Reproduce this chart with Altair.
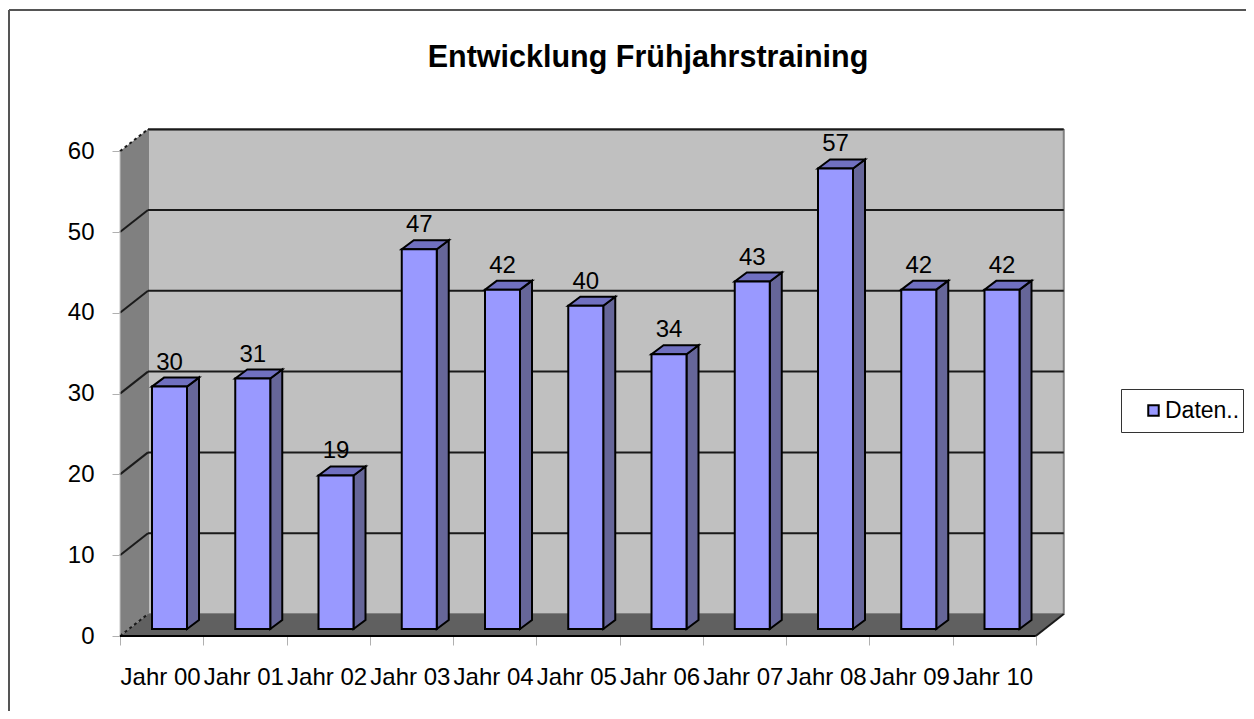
import json
import altair as alt
import pandas as pd

categories = ["Jahr 00", "Jahr 01", "Jahr 02", "Jahr 03", "Jahr 04", "Jahr 05",
              "Jahr 06", "Jahr 07", "Jahr 08", "Jahr 09", "Jahr 10"]
values = [30, 31, 19, 47, 42, 40, 34, 43, 57, 42, 42]
y_ticks = [0, 10, 20, 30, 40, 50, 60]
x_ticks = list(range(12))
series_name = "Daten.."

# layout
PW, PH = 944, 506
UX, UY = 83.25, 8.08            # px per category / per value unit
WX, WY = 28 / UX, 22 / UY       # depth of walls
BX, BY = 32 / UX, 7 / UY        # bar front plane offset
BW = 35 / UX                    # bar width
DX, DY = 12 / UX, 9 / UY        # bar depth
XD = [0, PW / UX]
YD = [0, PH / UY]
N = len(categories)

x_axis = alt.Axis(values=x_ticks, domain=False, grid=False, tickColor="#b0b0b0", tickSize=9, tickWidth=1,
                  labelFont="Liberation Sans", labelFontSize=24, labelColor="black", labelPadding=20,
                  labelOffset=UX / 2 - 1.5, labelOverlap=False, labelBound=False, labelFlush=False,
                  labelExpr=json.dumps(categories) + "[datum.value] || ''")
y_axis = alt.Axis(values=y_ticks, domain=False, grid=False, tickColor="#b0b0b0", tickSize=8, tickWidth=1,
                  labelFont="Liberation Sans", labelFontSize=24, labelColor="black", labelPadding=18,
                  labelOverlap=False, labelBound=False, labelFlush=False)


def X(f):
    return alt.X(f, type="quantitative", scale=alt.Scale(domain=XD, nice=False, zero=False), axis=x_axis, title=None)


def Y(f):
    return alt.Y(f, type="quantitative", scale=alt.Scale(domain=YD, nice=False, zero=False), axis=y_axis, title=None)


# walls
back = pd.DataFrame({"x": [WX], "x2": [N + WX], "y": [WY], "y2": [YD[1]]})
back_layer = alt.Chart(back).mark_rect(fill="#c0c0c0", stroke="#808080", strokeWidth=2).encode(
    x=X("x"), x2="x2", y=Y("y"), y2="y2")

left = pd.DataFrame({"x": [0, WX], "y": [0, WY], "y2": [60, 60 + WY]})
left_layer = alt.Chart(left).mark_area(fill="#808080", opacity=1).encode(x=X("x"), y=Y("y"), y2="y2")

floor = pd.DataFrame({"y": [0, WY], "x": [0, WX], "x2": [N, N + WX]})
floor_layer = alt.Chart(floor).mark_area(orient="horizontal", fill="#606060", opacity=1).encode(
    y=Y("y"), x=X("x"), x2="x2")

# grid lines
grid = pd.DataFrame({"v": y_ticks[1:]})
grid["y"] = grid["v"] + WY
grid["x"] = WX
grid["x2"] = N + WX
grid_back = alt.Chart(grid).mark_rule(color="#1a1a1a", strokeWidth=2).encode(x=X("x"), x2="x2", y=Y("y"))

diag = pd.DataFrame([{"v": v, "x": px, "y": v + py, "kind": "solid" if 0 < v < 60 else "dash"}
                     for v in y_ticks for px, py in [(0, 0), (WX, WY)]])
diag_solid = alt.Chart(diag[diag.kind == "solid"]).mark_line(color="#1a1a1a", strokeWidth=2).encode(
    x=X("x"), y=Y("y"), detail="v:N")
diag_dash = alt.Chart(diag[diag.kind == "dash"]).mark_line(color="#1a1a1a", strokeWidth=2, strokeDash=[3, 3]).encode(
    x=X("x"), y=Y("y"), detail="v:N")
floor_right = pd.DataFrame({"x": [N, N + WX], "y": [0, WY]})
floor_edge = alt.Chart(floor_right).mark_line(color="#1a1a1a", strokeWidth=2).encode(x=X("x"), y=Y("y"))

# bars
fronts = pd.DataFrame({"cat": categories, "val": values, "series": series_name})
fronts["x"] = [i + BX for i in range(N)]
fronts["x2"] = fronts["x"] + BW
fronts["y"] = BY
fronts["y2"] = fronts["val"] + BY

side_rows, top_rows = [], []
for i, v in enumerate(values):
    xr = i + BX + BW
    side_rows += [{"i": i, "x": xr, "y": BY, "y2": v + BY},
                  {"i": i, "x": xr + DX, "y": BY + DY, "y2": v + BY + DY}]
    top_rows += [{"i": i, "y": v + BY, "x": xr - BW, "x2": xr},
                 {"i": i, "y": v + BY + DY, "x": xr - BW + DX, "x2": xr + DX}]
sides = pd.DataFrame(side_rows)
tops = pd.DataFrame(top_rows)

side_layer = alt.Chart(sides).mark_area(fill="#666699", stroke="black", strokeWidth=2, opacity=1).encode(
    x=X("x"), y=Y("y"), y2="y2", detail="i:N")
top_layer = alt.Chart(tops).mark_area(orient="horizontal", fill="#7070c0", stroke="black", strokeWidth=2, opacity=1).encode(
    y=Y("y"), x=X("x"), x2="x2", detail="i:N")

legend = alt.Legend(title=None, orient="none", legendX=1001, legendY=259, symbolType="square", symbolSize=110,
                    symbolStrokeColor="black", symbolStrokeWidth=2, symbolOffset=18, labelFont="Liberation Sans",
                    labelFontSize=23, labelColor="black", labelOffset=0, strokeColor="#333333", fillColor="white",
                    padding=3, clipHeight=37, labelLimit=200)
front_layer = alt.Chart(fronts).mark_rect(stroke="black", strokeWidth=2).encode(
    x=X("x"), x2="x2", y=Y("y"), y2="y2",
    fill=alt.Fill("series:N", scale=alt.Scale(domain=[series_name], range=["#9999ff"]), legend=legend))

labels = fronts.assign(lx=fronts["x"] + BW / 2, ly=fronts["y2"] + DY)
label_layer = alt.Chart(labels).mark_text(font="Liberation Sans", fontSize=24, color="black", dy=-8,
                                          baseline="alphabetic", align="center").encode(
    x=X("lx"), y=Y("ly"), text="val:Q")

# axis lines and frame
x_line = alt.Chart(pd.DataFrame({"x": [0], "x2": [N], "y": [0]})).mark_rule(color="black", strokeWidth=2).encode(
    x=X("x"), x2="x2", y=Y("y"))
y_line = alt.Chart(pd.DataFrame({"x": [0], "y": [0], "y2": [60]})).mark_rule(color="#c4c4c4", strokeWidth=1).encode(
    x=X("x"), y=Y("y"), y2="y2")
frame_left = alt.Chart(pd.DataFrame({"a": [0]})).mark_rule(color="#555555", strokeWidth=2).encode(
    x=alt.value(-111), y=alt.value(-120), y2=alt.value(581))
frame_top = alt.Chart(pd.DataFrame({"a": [0]})).mark_rule(color="#555555", strokeWidth=2).encode(
    x=alt.value(-111), x2=alt.value(1126), y=alt.value(-120))

chart = alt.layer(
    back_layer, left_layer, floor_layer, grid_back, diag_solid, diag_dash, floor_edge,
    y_line, x_line, side_layer, top_layer, front_layer, label_layer, frame_left, frame_top,
).properties(
    width=PW, height=PH,
    padding={"left": 112, "top": 122, "right": 182, "bottom": 75},
    autosize=alt.AutoSizeParams(type="none"),
    background="white",
    title=alt.TitleParams("Entwicklung Frühjahrstraining", font="Liberation Sans", fontSize=30.5, fontWeight="bold",
                          color="black", anchor="middle", offset=0, dx=56, dy=64),
).configure_view(stroke=None)

chart.save("out.html", embed_options={"renderer": "svg", "actions": False})
